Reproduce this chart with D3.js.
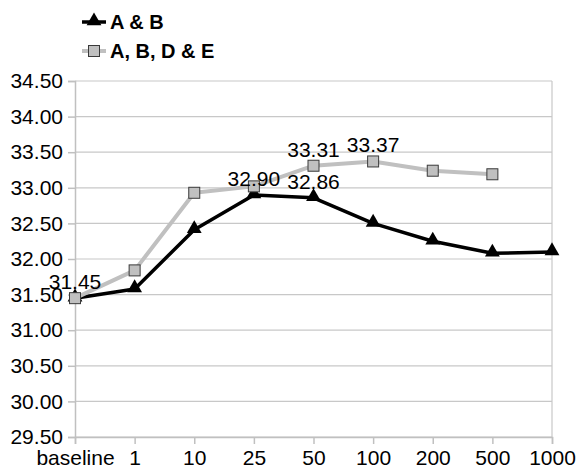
<!DOCTYPE html>
<html>
<head>
<meta charset="utf-8">
<script src="https://cdn.jsdelivr.net/npm/d3@7"></script>
<style>
  body { margin: 0; background: #fff; }
  svg { font-family: "Liberation Sans", Arial, sans-serif; }
</style>
</head>
<body>
<div id="chart"></div>
<script>
// Line chart: two series over run sizes
const categories = ['baseline', '1', '10', '25', '50', '100', '200', '500', '1000'];
const seriesAB = [31.45, 31.58, 32.41, 32.90, 32.86, 32.50, 32.25, 32.08, 32.10];
const seriesABDE = [31.45, 31.84, 32.93, 33.02, 33.31, 33.37, 33.24, 33.19, null];
const yTicks = [29.5, 30, 30.5, 31, 31.5, 32, 32.5, 33, 33.5, 34, 34.5];
// value labels: category indexes per series
const labelsAB = [0, 3, 4];
const labelsABDE = [4, 5];

(function(){
  const w = 577, h = 468;
  const fs = 21;
  const svg = d3.select('#chart').append('svg').attr('width', w).attr('height', h);

  const x = d3.scalePoint().domain(categories).range([75, 552]).padding(0);
  const y = d3.scaleLinear().domain([29.5, 34.5]).range([437, 81]);

  // gridlines
  svg.append('g').selectAll('line').data(yTicks).enter().append('line')
    .attr('x1', 75).attr('x2', 552)
    .attr('y1', d => y(d)).attr('y2', d => y(d))
    .attr('stroke', '#c8c8c8').attr('stroke-width', 1.2);
  // right border
  svg.append('line').attr('x1', 552).attr('x2', 552).attr('y1', y(34.5)).attr('y2', y(29.5))
    .attr('stroke', '#c8c8c8').attr('stroke-width', 1.2);

  // axes
  const yAxis = d3.axisLeft(y).tickValues(yTicks).tickFormat(d3.format('.2f')).tickSize(7).tickPadding(5);
  const gy = svg.append('g').attr('transform', 'translate(75,0)').call(yAxis);
  const xAxis = d3.axisBottom(x).tickSize(7).tickPadding(6);
  const gx = svg.append('g').attr('transform', `translate(0,${y(29.5)})`).call(xAxis);
  [gx, gy].forEach(g => {
    g.select('.domain').attr('stroke', '#c0c0c0').attr('stroke-width', 1.5);
    g.selectAll('.tick line').attr('stroke', '#c0c0c0').attr('stroke-width', 1.5);
    g.selectAll('.tick text').attr('fill', '#000').attr('font-size', fs)
      .attr('font-family', '"Liberation Sans", Arial, sans-serif');
  });

  const line = d3.line().defined(d => d != null)
    .x((d, i) => x(categories[i])).y(d => y(d));

  const tri = d3.symbol().type(d3.symbolTriangle).size(95);

  // A & B
  svg.append('path').datum(seriesAB).attr('fill', 'none').attr('stroke', '#000')
    .attr('stroke-width', 3.5).attr('stroke-linejoin', 'round').attr('d', line);
  svg.append('g').selectAll('path').data(seriesAB).enter().append('path')
    .attr('d', tri).attr('fill', '#000')
    .attr('transform', (d, i) => `translate(${x(categories[i])},${y(d) - 1})`);

  // A, B, D & E
  svg.append('path').datum(seriesABDE).attr('fill', 'none').attr('stroke', '#c0c0c0')
    .attr('stroke-width', 4).attr('stroke-linejoin', 'round').attr('d', line);
  svg.append('g').selectAll('rect').data(seriesABDE.filter(d => d != null)).enter().append('rect')
    .attr('x', (d, i) => x(categories[i]) - 5.5).attr('y', d => y(d) - 5.5)
    .attr('width', 11).attr('height', 11)
    .attr('fill', '#c0c0c0').attr('stroke', '#3a3a3a').attr('stroke-width', 1);

  // value labels
  const lab = [].concat(labelsAB.map(i => ({i, v: seriesAB[i]})),
                        labelsABDE.map(i => ({i, v: seriesABDE[i]})));
  svg.append('g').selectAll('text').data(lab).enter().append('text')
    .attr('x', d => x(categories[d.i])).attr('y', d => y(d.v) - 9)
    .attr('text-anchor', 'middle').attr('font-size', fs).attr('fill', '#000')
    .text(d => d3.format('.2f')(d.v));

  // legend
  const leg = svg.append('g');
  const l1 = leg.append('g').attr('transform', 'translate(0,22)');
  l1.append('line').attr('x1', 82).attr('x2', 106).attr('stroke', '#000').attr('stroke-width', 3.5);
  l1.append('path').attr('d', tri).attr('fill', '#000').attr('transform', 'translate(94,-1)');
  l1.append('text').attr('x', 110).attr('y', 7).attr('font-size', 20).attr('font-weight', 'bold').text('A & B');
  const l2 = leg.append('g').attr('transform', 'translate(0,51)');
  l2.append('line').attr('x1', 82).attr('x2', 106).attr('stroke', '#c0c0c0').attr('stroke-width', 4);
  l2.append('rect').attr('x', 88.5).attr('y', -5.5).attr('width', 11).attr('height', 11)
    .attr('fill', '#c0c0c0').attr('stroke', '#3a3a3a').attr('stroke-width', 1);
  l2.append('text').attr('x', 110).attr('y', 7).attr('font-size', 20).attr('font-weight', 'bold').text('A, B, D & E');
})();
</script>
</body>
</html>
